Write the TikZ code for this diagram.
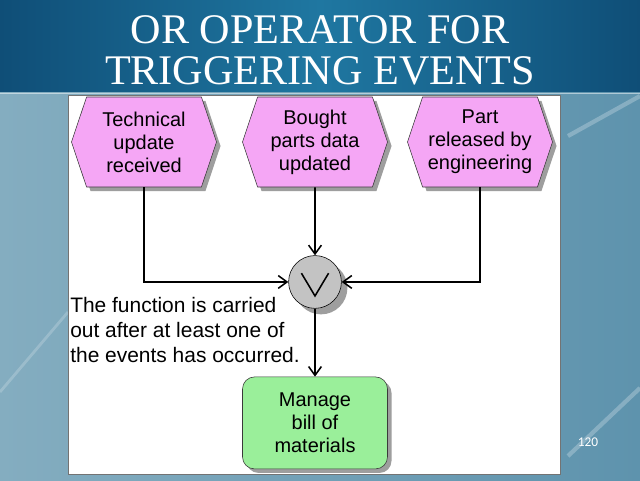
\documentclass[tikz,border=0pt]{standalone}
\usepackage{fontspec}
\setmainfont{Liberation Sans}
\newfontfamily\titlefont{Liberation Serif}
\newfontfamily\numfont{Carlito}
\usepackage{tikz}
\usetikzlibrary{arrows.meta,positioning,shapes.symbols,shadows}
\definecolor{BandDark}{HTML}{0F4E77}
\definecolor{BandMid}{HTML}{1F77A1}
\definecolor{SlideLeft}{HTML}{84ADC0}
\definecolor{SlideRight}{HTML}{5E93AD}
\definecolor{EventFill}{HTML}{F5A6F5}
\definecolor{FuncFill}{HTML}{9AEF9A}
\definecolor{OperFill}{HTML}{C3C3C3}
\definecolor{Stroke}{HTML}{3A3A3A}

\begin{document}
\begin{tikzpicture}[node distance=1.7cm, every node/.style={font=\fontsize{14.2}{16.4}\selectfont},
    event/.style={signal, signal to=west and east, signal pointer angle=143, draw=Stroke, fill=EventFill,
      minimum width=3.625cm, minimum height=2.25cm, align=center, inner sep=0,
      drop shadow={shadow xshift=0.1cm, shadow yshift=-0.1cm, fill=black!38, opacity=1}},
    func/.style={rectangle, rounded corners=0.3cm, draw=Stroke, fill=FuncFill,
      minimum width=3.625cm, minimum height=2.3cm, align=center, inner sep=0,
      drop shadow={shadow xshift=0.1cm, shadow yshift=-0.1cm, fill=black!38, opacity=1}},
    oper/.style={circle, draw=black, fill=OperFill, minimum size=1.32cm, inner sep=0,
      drop shadow={shadow xshift=0.15cm, shadow yshift=-0.15cm, fill=black!38, opacity=1}},
    flow/.style={draw=black, line width=1.1pt, -{Straight Barb[length=2.2mm, width=3.2mm]}}]
  \useasboundingbox (0,0) rectangle (16,12);
  % slide background
  \shade[left color=SlideLeft, right color=SlideRight] (0,0) rectangle (16,9.7);
  \draw[white, opacity=0.25, line width=3pt] (14.2,0.6) -- (16,2.3);
  \draw[white, opacity=0.25, line width=3pt] (14.2,8.6) -- (16,9.6);
  \draw[white, opacity=0.2, line width=2pt] (0,2.2) -- (1.7,4.2);
  \shade[left color=BandDark, right color=BandDark, middle color=BandMid] (0,9.7) rectangle (16,12);
  \draw[white, opacity=0.5] (0,9.68) -- (16,9.68);
  \node[text=white, align=center, font=\titlefont\fontsize{30}{29}\selectfont] (title) at (8,10.75)
    {OR OPERATOR FOR\\TRIGGERING EVENTS};
  \node[draw=black!55, fill=white, minimum width=12.3cm, minimum height=9.475cm, inner sep=0,
    anchor=north west] (panel) at (1.7,9.625) {};

  % events, operator, function
  \node[event] (tech) at (3.6,8.45) {Technical\\update\\received};
  \node[event] (bought) at (7.875,8.45) {Bought\\parts data\\updated};
  \node[event] (part) at (12.0,8.45) {Part\\released by\\engineering};
  \node[oper, below=of bought] (or) {};
  \draw[line width=1.1pt] ([shift={(-0.34,0.22)}]or.center) -- ([yshift=-0.35cm]or.center)
    -- ([shift={(0.34,0.22)}]or.center);
  \node[func, below=of or] (bom) {Manage\\bill of\\materials};

  \draw[flow] (tech) |- (or);
  \draw[flow] (bought) -- (or);
  \draw[flow] (part) |- (or);
  \draw[flow] (or) -- (bom);

  \node[anchor=north west, align=left, inner sep=0, font=\fontsize{14.9}{17.8}\selectfont] (note)
    at (1.75,4.575) {The function is carried\\out after at least one of\\the events has occurred.};
  \node[text=white, font=\numfont\fontsize{9.5}{11}\selectfont] (pgnum) at (14.7,0.95) {120};
\end{tikzpicture}
\end{document}
